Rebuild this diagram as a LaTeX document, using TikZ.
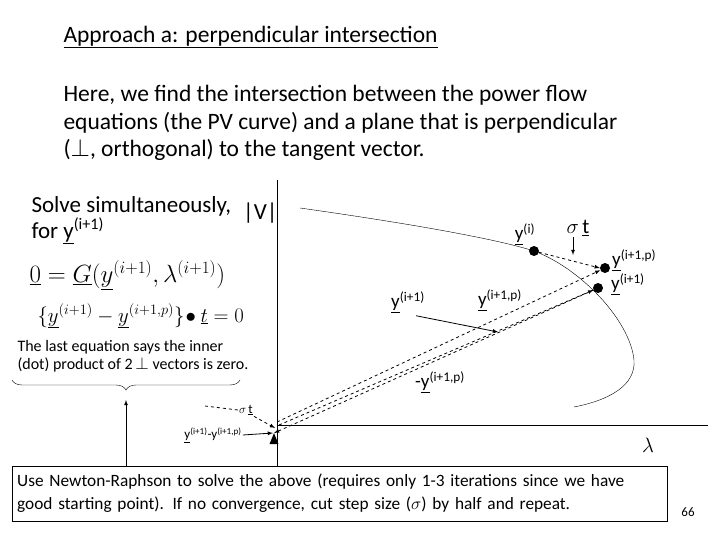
\documentclass[tikz,border=0pt]{standalone}
\usepackage{fontspec}
\setmainfont{Carlito}
\usetikzlibrary{shapes.geometric, positioning, calc, decorations.pathreplacing}
\begin{document}
\begin{tikzpicture}[x=1pt, y=-1pt]
  \tikzset{ptr/.style={thick, ->, >=latex}}
  \tikzset{dptr/.style={ptr, dashed}}
  \tikzset{pt/.style={circle, fill=black, inner sep=0pt, minimum size=10pt}}
  \tikzset{lbl/.style={inner sep=1pt, font=\fontsize{19}{21}\selectfont}}
  \newcommand\uy{\underline{y}}
  \newcommand\sps[1]{\textsuperscript{(#1)}}
  \useasboundingbox (0,0) rectangle (720,540);

  % title and text
  \node[anchor=west, font=\fontsize{23.5}{26}\selectfont] (title) at (60,37) {\underline{Approach a: perpendicular intersection}};
  \node[anchor=north west, align=left, font=\fontsize{23.5}{27.5}\selectfont] (intro) at (60,82)
    {Here, we find the intersection between the power flow\\
     equations (the PV curve) and a plane that is perpendicular\\
     ($\perp$, orthogonal) to the tangent vector.};

  % axes
  \coordinate (o) at (277,425);
  \draw (277,180) -- (277,466);
  \draw (o) -- (708,425);
  \node[lbl, anchor=west, font=\fontsize{23}{25}\selectfont] (V) at (242,213) {|V|};
  \node[font=\fontsize{22}{24}\selectfont] (lam) at (648,445) {$\lambda$};

  % PV curve
  \draw (300,208) .. controls (420,225) and (500,240) .. (534,251)
    .. controls (580,268) and (630,320) .. (634,360)
    .. controls (636,385) and (610,400) .. (574,407);

  % points
  \node[pt] (yi) at (534,251) {};
  \node[pt] (yp) at (605,268) {};
  \node[pt] (yn) at (598,288) {};
  \node[lbl] (yi-l) at (525,234) {\uy\sps{i}};
  \node[lbl, font=\fontsize{21}{23}\selectfont] (st) at (578,228) {$\sigma$\,\underline{t}};
  \coordinate (st-e) at (573,255);
  \node[lbl, anchor=west] (yp-l) at (611,260) {\uy\sps{i+1,p}};
  \node[lbl, anchor=west] (yn-l) at (610,284) {\uy\sps{i+1}};
  \node[lbl] (yn-m) at (408,302) {\uy\sps{i+1}};
  \coordinate (yn-me) at (498,332);
  \node[lbl] (yp-m) at (500,300) {\uy\sps{i+1,p}};
  \node[lbl] (myp) at (440,382) {-\uy\sps{i+1,p}};

  \draw[ptr] ($(st.south)+(-5,0)$) -- (st-e);
  \draw[ptr] ($(yn-m.south)+(8,2)$) -- (yn-me);
  \draw[dptr] (yi) -- (yp.west);
  \draw[dptr] ($(o)+(0,-3)$) -- (yp);
  \draw[dptr] ($(o)+(2,0)$) -- (yn);
  \draw[dptr] (yn) -- ($(o)+(-3,8)$);

  % small vectors at origin
  \node[inner sep=1pt, font=\fontsize{13}{15}\selectfont] (st-s) at (246,410) {$\sigma$\,\underline{t}};
  \coordinate (st-s0) at (205,406);
  \draw[dptr] (st-s0) -- (st-s.west) (st-s.south east) -- ($(o)+(-2,3)$);
  \node[inner sep=1pt, font=\fontsize{13}{15}\selectfont] (dy) at (213,435) {\uy\sps{i+1}-y\sps{i+1,p}};
  \draw[ptr] (dy.east) -- ($(o)+(-4,8)$);
  \node[isosceles triangle, shape border rotate=90, fill=black, inner sep=0pt, minimum size=9pt] (tri) at (274,441) {};

  % left equations
  \node[anchor=west, align=left, font=\fontsize{23}{26}\selectfont] (solve) at (28,220)
    {Solve simultaneously,\\ for \uy\sps{i+1}};
  \node[anchor=west, font=\fontsize{27}{29}\selectfont] (eq1) at (26,275)
    {$\underline{0}=\underline{G}(\underline{y}^{(i+1)},\lambda^{(i+1)})$};
  \node[anchor=west, font=\fontsize{22}{24}\selectfont] (eq2) at (34,316)
    {$\bigl\{\underline{y}^{(i+1)}-\underline{y}^{(i+1,p)}\bigr\}\!\bullet\underline{t}=0$};
  \node[anchor=west, align=left, font=\fontsize{16}{18}\selectfont] (note) at (14,356)
    {The last equation says the inner\\ (dot) product of 2\,$\perp$ vectors is zero.};
  \draw[decorate, decoration={brace, amplitude=10pt, mirror}] (12,380) -- (240,380);
  \coordinate (br) at (126,400);

  % bottom box
  \node[draw, anchor=north west, align=left, text width=645pt, inner xsep=5pt, inner ysep=8pt, font=\fontsize{17.3}{23}\selectfont] (box) at (12,466)
    {\raggedright Use Newton-Raphson to solve the above (requires only 1-3 iterations since we have\\
     good starting point). If no convergence, cut step size ($\sigma$) by half and repeat.};
  \draw[ptr] (box.north -| br) -- (br);
  \node[font=\fontsize{13}{15}\selectfont] (pg) at (688,512) {66};
\end{tikzpicture}
\end{document}
